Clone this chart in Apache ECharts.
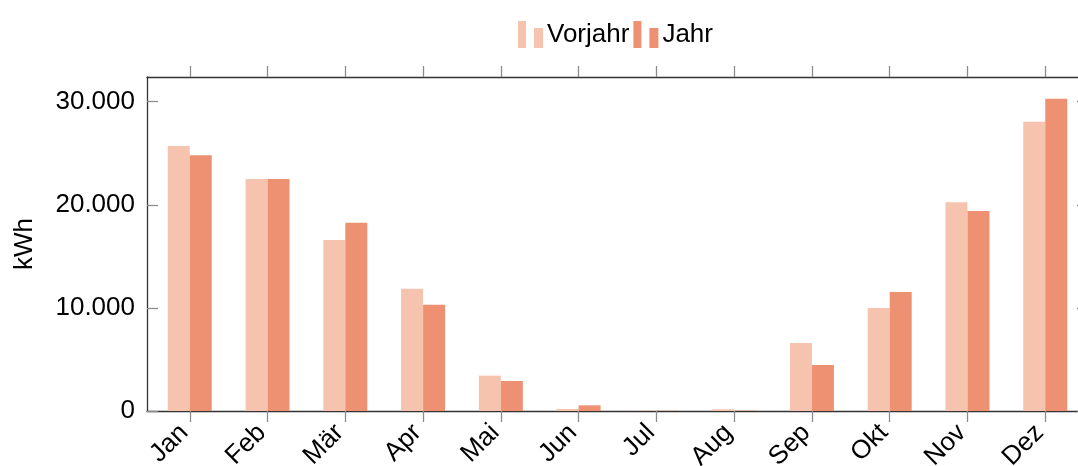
<!DOCTYPE html>
<html>
<head>
<meta charset="utf-8">
<script src="https://cdn.jsdelivr.net/npm/echarts@6/dist/echarts.min.js"></script>
<style>
  html, body { margin: 0; padding: 0; background: #fff; }
  #chart { width: 1078px; height: 466px; }
</style>
</head>
<body>
<div id="chart"></div>
<script>
// Monatswerte in kWh
const months = ['Jan', 'Feb', 'Mär', 'Apr', 'Mai', 'Jun', 'Jul', 'Aug', 'Sep', 'Okt', 'Nov', 'Dez']
const vorjahr = [25700, 22500, 16600, 11850, 3430, 200, 40, 170, 6600, 10000, 20250, 28050]
const jahr = [24800, 22500, 18250, 10300, 2910, 550, 30, 40, 4470, 11550, 19400, 30300]
const yTicks = [0, 10000, 20000, 30000]

const fontFam = '"Liberation Sans", Arial, sans-serif'
const fontSize = 26
const frameColor = '#333'
const tickColor = '#8c8c8c'
const monthIdx = months.map((m, i) => i)

const fmtNum = (v) => String(v).replace(/\B(?=(\d{3})+(?!\d))/g, '.')

// pgfplots-artiges Legendensymbol: zwei Balken
const barIcon = 'path://M0,0 L8,0 L8,27 L0,27 Z M16,7 L25,7 L25,27 L16,27 Z'

const chart = echarts.init(document.getElementById('chart'))

const xBase = {
  type: 'value',
  min: -0.55,
  max: 11.55,
  splitLine: { show: false },
  axisLine: { show: true, onZero: false, lineStyle: { color: frameColor, width: 1.3 } },
  axisTick: { show: true, inside: false, length: 11, customValues: monthIdx, lineStyle: { color: tickColor, width: 1.3 } }
}

const yBase = {
  type: 'value',
  min: 0,
  max: 32400,
  splitLine: { show: false },
  axisLine: { show: true, onZero: false, lineStyle: { color: frameColor, width: 1.3 } },
  axisTick: { show: true, inside: true, length: 11, customValues: yTicks, lineStyle: { color: tickColor, width: 1.3 } }
}

chart.setOption({
  backgroundColor: '#fff',
  animation: false,
  textStyle: { fontFamily: fontFam },
  legend: {
    left: 513,
    top: 16,
    itemWidth: 25,
    itemHeight: 27,
    itemGap: 4,
    icon: barIcon,
    textStyle: { fontSize: fontSize, color: '#000', fontFamily: fontFam, padding: [0, 0, 0, -1] },
    data: ['Vorjahr', 'Jahr']
  },
  // Plot ragt rechts über den Bildrand hinaus (wie im Original beschnitten)
  grid: { left: 147, top: 77, width: 941, height: 334, outerBoundsMode: 'none', containLabel: false },
  xAxis: [
    Object.assign({}, xBase, {
      position: 'bottom',
      axisLabel: {
        show: true,
        customValues: monthIdx,
        formatter: (v) => months[Math.round(v)],
        rotate: 45,
        margin: 12,
        padding: [0, 8, 0, 0],
        fontSize: fontSize,
        color: '#000',
        fontFamily: fontFam
      }
    }),
    Object.assign({}, xBase, {
      position: 'top',
      axisLabel: { show: false }
    })
  ],
  yAxis: [
    Object.assign({}, yBase, {
      position: 'left',
      name: 'kWh',
      nameLocation: 'middle',
      nameRotate: 90,
      nameGap: 109,
      nameTextStyle: { fontSize: fontSize, color: '#000', fontFamily: fontFam },
      axisLabel: {
        show: true,
        customValues: yTicks,
        formatter: fmtNum,
        margin: 12,
        fontSize: fontSize,
        color: '#000',
        fontFamily: fontFam
      }
    }),
    Object.assign({}, yBase, {
      position: 'right',
      axisLabel: { show: false }
    })
  ],
  series: [
    {
      name: 'Vorjahr',
      type: 'bar',
      barWidth: 22,
      barGap: '0%',
      itemStyle: { color: '#f6c4ae' },
      data: vorjahr.map((v, i) => [i, v])
    },
    {
      name: 'Jahr',
      type: 'bar',
      barWidth: 22,
      barGap: '0%',
      itemStyle: { color: '#ee9173' },
      data: jahr.map((v, i) => [i, v])
    }
  ]
})
</script>
</body>
</html>
